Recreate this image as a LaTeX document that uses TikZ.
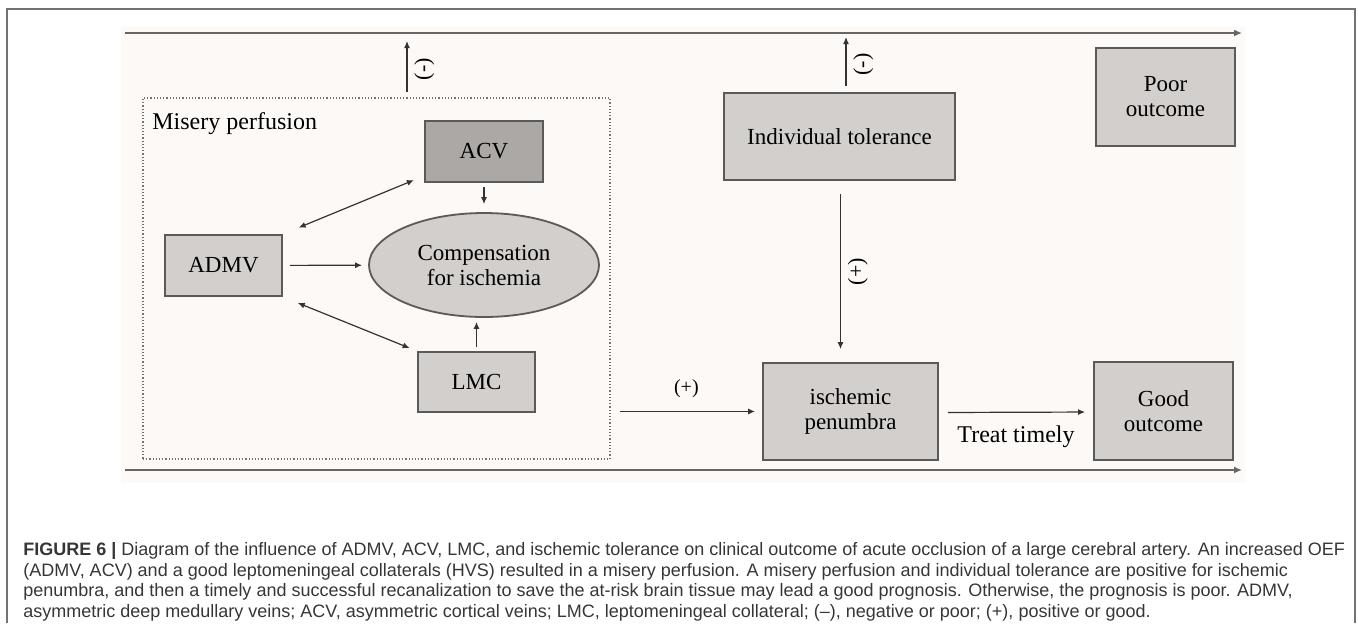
\documentclass[tikz,border=0pt]{standalone}
\usepackage{fontspec}
\setmainfont{Liberation Serif}
\newfontfamily\capfont{Liberation Sans}
\usepackage{tikz}
\usetikzlibrary{shapes.geometric, arrows.meta, positioning}

\definecolor{boxgray}{HTML}{D2CFCC}
\definecolor{darkbox}{HTML}{ABA8A6}
\definecolor{paper}{HTML}{FCF9F6}
\definecolor{edgegray}{HTML}{5A5A5A}
\definecolor{capgray}{HTML}{363636}

\begin{document}
\begin{tikzpicture}[x=0.5pt, y=-0.5pt,
  box/.style={draw=edgegray, line width=0.9pt, fill=boxgray, inner sep=0pt, align=center, font=\fontsize{11.5}{12.5}\selectfont},
  arr/.style={-{Latex[length=3.5pt,width=3pt]}, line width=0.6pt, draw=black!80},
  dbl/.style={{Latex[length=3.5pt,width=3pt]}-{Latex[length=3.5pt,width=3pt]}, line width=0.6pt, draw=black!80},
  axis/.style={-{Latex[length=4pt,width=3.5pt]}, line width=1pt, draw=black!60},
  sign/.style={rotate=90, font=\fontsize{11}{11}\selectfont}]
  \useasboundingbox (0,0) rectangle (1358,623);
  \draw[black!55, line width=0.8pt] (7,623) -- (7,9) -- (1355,9) -- (1355,623);
  \fill[paper] (121,27) rectangle (1245,483);
  \coordinate (tl) at (125,33);
  \coordinate (tr) at (1242,33);
  \coordinate (bl) at (125,470);
  \coordinate (br) at (1242,470);
  \draw[axis] (tl) -- (tr);
  \draw[axis] (bl) -- (br);

  \node[draw=black!55, densely dotted, line width=0.6pt, minimum width=233.5pt, minimum height=180.5pt, inner sep=0pt] (misery) at (376.5,278.5) {};
  \node[anchor=west, inner sep=0pt, font=\fontsize{12}{13}\selectfont] (misl) at (152,124) {Misery perfusion};
  \node[box, fill=darkbox, minimum width=59pt, minimum height=30.5pt] (acv) at (484,151.5) {ACV};
  \node[box, minimum width=58.5pt, minimum height=30.5pt] (admv) at (223.5,265.5) {ADMV};
  \node[box, minimum width=58.5pt, minimum height=30pt] (lmc) at (476.5,382) {LMC};
  \node[box, ellipse, minimum width=115pt, minimum height=52pt] (comp) at (484,265) {Compensation\\for ischemia};
  \node[box, minimum width=115.5pt, minimum height=43.5pt] (indiv) at (839.5,136.5) {Individual tolerance};
  \node[box, minimum width=69.5pt, minimum height=49pt] (poor) at (1165.5,97) {Poor\\outcome};
  \node[box, minimum width=87.5pt, minimum height=48.5pt] (pen) at (850.5,411.5) {ischemic\\penumbra};
  \node[box, minimum width=69.5pt, minimum height=49pt] (good) at (1163.5,411) {Good\\outcome};

  \coordinate (mup) at (407,41);
  \coordinate (iup) at (846,37);
  \draw[arr, shorten <=2.5pt] (misery.north -| mup) -- (mup) node[midway, right, sign, anchor=north] {(-)};
  \draw[arr, shorten <=3pt] (indiv.north -| iup) -- (iup) node[midway, right, sign, anchor=north] {(-)};
  \draw[arr, shorten <=2pt, shorten >=4pt] (acv) -- (comp);
  \draw[arr, shorten <=2pt, shorten >=2pt] (lmc.north) -- (lmc.north |- comp.south);
  \draw[arr, shorten <=3.5pt, shorten >=3pt] (admv) -- (comp);
  \draw[dbl, shorten <=8.5pt, shorten >=5.5pt] (admv.north east) -- ([yshift=3.5pt]acv.south west);
  \draw[dbl, shorten <=8pt, shorten >=4pt] (admv.south east) -- (lmc.north west);
  \draw[arr, shorten <=4.5pt, shorten >=3.5pt] (misery.east |- pen) -- (pen.west) node[midway, above=3pt] {(+)};
  \draw[arr, shorten <=6.5pt, shorten >=6.5pt] ([xshift=0.5pt]indiv.south) -- ([xshift=-5pt]pen.north) node[midway, right, sign, anchor=north] {(+)};
  \draw[arr, shorten <=4.5pt, shorten >=4pt] ([yshift=-0.5pt]pen.east) -- ([yshift=-0.5pt]good.west) node[midway, below=3pt, font=\fontsize{12}{13}\selectfont] {Treat timely};

  \node[anchor=base west, align=left, inner sep=0pt, text=capgray, font=\capfont\fontsize{9}{10.2}\selectfont] (cap) at (23,617)
    {\textbf{FIGURE 6 |} Diagram of the influence of ADMV, ACV, LMC, and ischemic tolerance on clinical outcome of acute occlusion of a large cerebral artery. An increased OEF\\
     (ADMV, ACV) and a good leptomeningeal collaterals (HVS) resulted in a misery perfusion. A misery perfusion and individual tolerance are positive for ischemic\\
     penumbra, and then a timely and successful recanalization to save the at-risk brain tissue may lead a good prognosis. Otherwise, the prognosis is poor. ADMV,\\
     asymmetric deep medullary veins; ACV, asymmetric cortical veins; LMC, leptomeningeal collateral; (\textendash), negative or poor; (+), positive or good.};
\end{tikzpicture}
\end{document}
